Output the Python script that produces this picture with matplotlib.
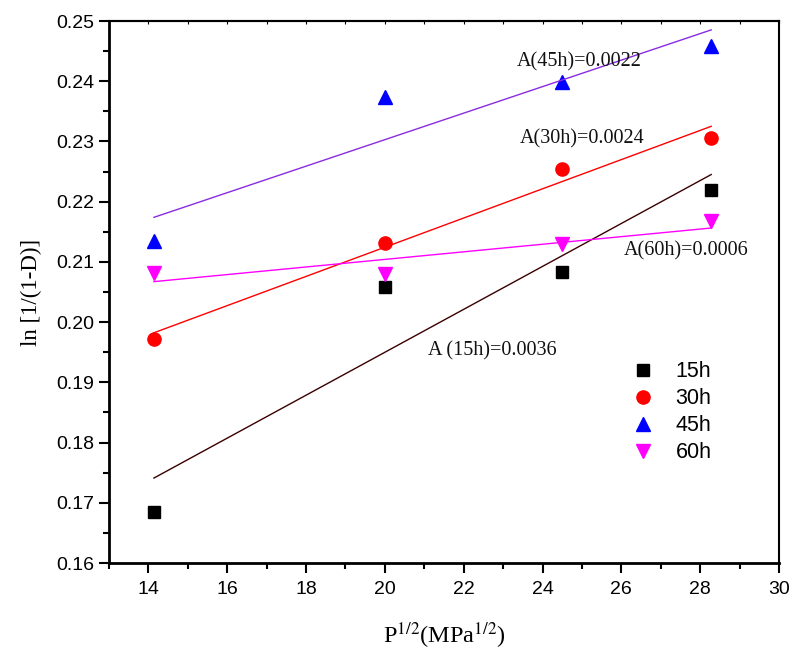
import numpy as np
import matplotlib
matplotlib.use("Agg")
import matplotlib.pyplot as plt
from matplotlib.ticker import MultipleLocator, FormatStrFormatter

plt.rcParams["mathtext.fontset"] = "stix"

# sqrt of pressure (MPa^1/2)
p_sqrt = [14.14, 20.0, 24.49, 28.28]

series_names = ["15h", "30h", "45h", "60h"]
y_15h = [0.1685, 0.2058, 0.2083, 0.2220]
y_30h = [0.1972, 0.2132, 0.2255, 0.2306]
y_45h = [0.2134, 0.2373, 0.2398, 0.2459]
y_60h = [0.2082, 0.2080, 0.2130, 0.2168]

fit_labels = ["A (15h)=0.0036", "A(30h)=0.0024", "A(45h)=0.0022", "A(60h)=0.0006"]
label_pos = [(22.73, 0.1952), (25.0, 0.2305), (24.94, 0.2432), (27.65, 0.2119)]

markers = ["s", "o", "^", "v"]
msizes = [8, 9.5, 10, 10]
mcolors = ["black", "red", "blue", "magenta"]
lcolors = ["#3a0000", "red", "#8a2be2", "magenta"]

fig = plt.figure(figsize=(7.93, 6.56), dpi=100)
ax = fig.add_axes([109 / 793, 1 - 563 / 656, (779 - 109) / 793, (563 - 21) / 656])

x = np.array(p_sqrt)
for ys, name, m, ms, mc, lc in zip([y_15h, y_30h, y_45h, y_60h], series_names,
                                   markers, msizes, mcolors, lcolors):
    ax.plot(x, ys, ls="none", marker=m, ms=ms, color=mc, label=name)
    k, b = np.polyfit(x, ys, 1)
    ax.plot(x[[0, -1]], k * x[[0, -1]] + b, color=lc, lw=1.0)

for txt, (tx, ty) in zip(fit_labels, label_pos):
    ax.text(tx, ty, txt, family="Liberation Serif", fontsize=14.5,
            ha="center", va="center", color="#111111")

ax.set_xlim(13, 30)
ax.set_ylim(0.16, 0.25)
ax.xaxis.set_major_locator(MultipleLocator(2))
ax.xaxis.set_minor_locator(MultipleLocator(1))
ax.yaxis.set_major_locator(MultipleLocator(0.01))
ax.yaxis.set_minor_locator(MultipleLocator(0.005))
ax.yaxis.set_major_formatter(FormatStrFormatter("%.2f"))

for lab in ax.get_xticklabels() + ax.get_yticklabels():
    lab.set_family("Liberation Sans")
ax.tick_params(which="major", direction="out", length=7, width=1.5,
               labelsize=14, top=False, right=False)
ax.tick_params(which="minor", direction="out", length=4, width=1.5,
               top=False, right=False)
ax.tick_params(axis="x", pad=6)
sec = ax.secondary_xaxis("top")
sec.xaxis.set_major_locator(MultipleLocator(1))
sec.tick_params(direction="in", length=2, width=0.8, labeltop=False)
sec.spines["top"].set_linewidth(1.5)
for s in ax.spines.values():
    s.set_linewidth(1.5)
ax.spines["left"].set_linewidth(2)
ax.spines["bottom"].set_linewidth(2)

ax.set_xlabel(r"P$^{1/2}$(MPa$^{1/2}$)", family="Liberation Serif", fontsize=17.5, labelpad=16)
ax.set_ylabel("ln [1/(1-D)]", family="Liberation Serif", fontsize=16.5, labelpad=10)

leg = ax.legend(loc="upper left", bbox_to_anchor=(0.749, 0.392), frameon=False,
                prop={"family": "Liberation Sans", "size": 15.5},
                handletextpad=0.5, labelspacing=0.28, borderpad=0)

fig.savefig("out.png", dpi=100)
